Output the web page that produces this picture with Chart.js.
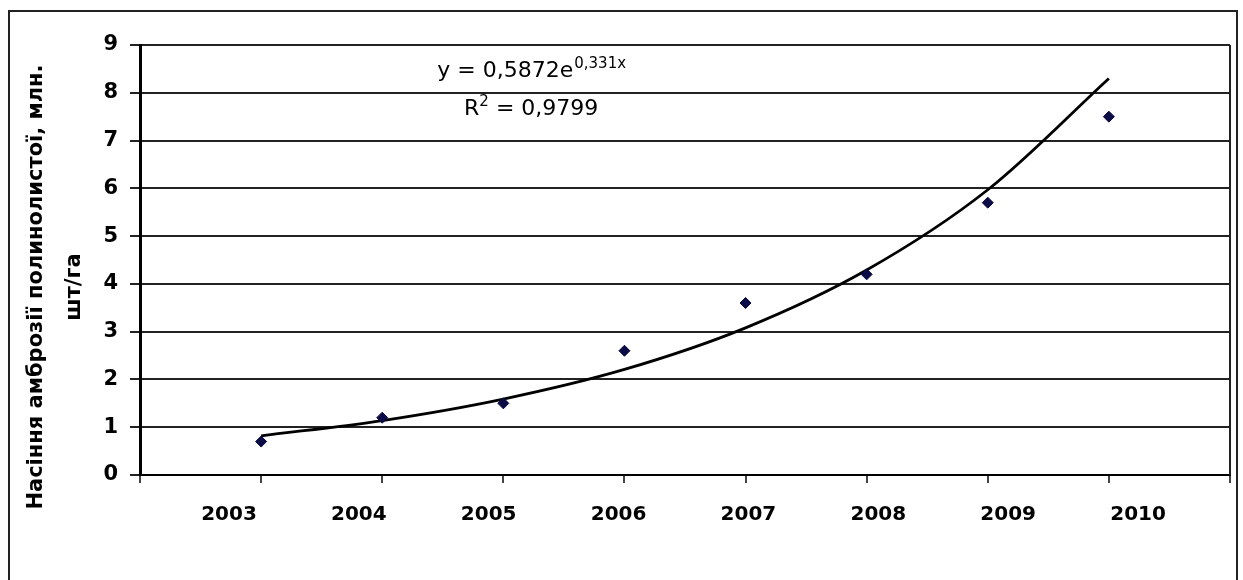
<!DOCTYPE html>
<html>
<head>
<meta charset="utf-8">
<script src="https://cdn.jsdelivr.net/npm/chart.js@4.4.1/dist/chart.umd.min.js"></script>
<style>
    html, body { margin: 0; padding: 0; background: #fff; }
    #wrap { position: relative; width: 1243px; height: 580px; }
</style>
</head>
<body>
<div id="wrap"><canvas id="seedChart" width="1243" height="580"></canvas></div>
<script>
// Дані з графіка
const years = ['2003', '2004', '2005', '2006', '2007', '2008', '2009', '2010'];
const seedValues = [0.7, 1.2, 1.5, 2.6, 3.6, 4.2, 5.7, 7.5];
// лінія тренду, зчитана з малюнка в точках 2003..2010
const trendValues = [0.82, 1.14, 1.59, 2.21, 3.08, 4.29, 5.97, 8.30];
const yTicks = [0, 1, 2, 3, 4, 5, 6, 7, 8, 9];
const xTicks = [0, 1, 2, 3, 4, 5, 6, 7, 8, 9];
const yTitle = ['Насіння амброзії полинолистої, млн.', 'шт/га'];
const equationMain = 'y = 0,5872e';
const equationExp = '0,331x';
const r2Base = 'R';
const r2Exp = '2';
const r2Rest = ' = 0,9799';

const FONT = 'DejaVu Sans';

/**
 * Рамка, заголовок осі Y та рівняння тренду
 */
const decorPlugin = {
    id: 'decor',
    beforeDraw(chart) {
        const ctx = chart.ctx;
        ctx.save();
        ctx.fillStyle = '#fff';
        ctx.fillRect(0, 0, chart.width, chart.height);
        ctx.strokeStyle = '#222';
        ctx.lineWidth = 2;
        ctx.strokeRect(9, 11, 1228, 620);
        ctx.restore();
    },
    afterDraw(chart) {
        const ctx = chart.ctx;
        const area = chart.chartArea;
        const xs = chart.scales.x;
        const ys = chart.scales.y;

        ctx.save();
        // права межа області побудови
        ctx.strokeStyle = '#222';
        ctx.lineWidth = 2;
        ctx.beginPath();
        ctx.moveTo(area.right, area.top);
        ctx.lineTo(area.right, area.bottom);
        ctx.stroke();

        // заголовок осі Y
        ctx.fillStyle = '#000';
        ctx.font = 'bold 21px "' + FONT + '"';
        ctx.textAlign = 'center';
        ctx.textBaseline = 'middle';
        [37, 75].forEach((x, i) => {
            ctx.save();
            ctx.translate(x, 287);
            ctx.rotate(-Math.PI / 2);
            ctx.fillText(yTitle[i], 0, 0);
            ctx.restore();
        });

        // рівняння тренду
        ctx.textAlign = 'left';
        ctx.textBaseline = 'alphabetic';
        const cx = xs.getPixelForValue(3.23);
        const bigFont = '22px "' + FONT + '"';
        const supFont = '15px "' + FONT + '"';

        ctx.font = bigFont;
        const wMain = ctx.measureText(equationMain).width;
        ctx.font = supFont;
        const wExp = ctx.measureText(equationExp).width;
        let x0 = cx - (wMain + wExp) / 2;
        const y1 = ys.getPixelForValue(8.33);
        ctx.font = bigFont;
        ctx.fillText(equationMain, x0, y1);
        ctx.font = supFont;
        ctx.fillText(equationExp, x0 + wMain + 1, y1 - 9);

        ctx.font = bigFont;
        const wR = ctx.measureText(r2Base).width;
        const wRest = ctx.measureText(r2Rest).width;
        ctx.font = supFont;
        const w2 = ctx.measureText(r2Exp).width;
        x0 = cx - (wR + w2 + wRest) / 2;
        const y2 = ys.getPixelForValue(7.53);
        ctx.font = bigFont;
        ctx.fillText(r2Base, x0, y2);
        ctx.font = supFont;
        ctx.fillText(r2Exp, x0 + wR, y2 - 9);
        ctx.font = bigFont;
        ctx.fillText(r2Rest, x0 + wR + w2, y2);
        ctx.restore();
    }
};

function initSeedChart() {
    const canvas = document.getElementById('seedChart');
    if (!canvas) return;

    const ctx = canvas.getContext('2d');

    new Chart(ctx, {
        type: 'line',
        data: {
            datasets: [
                {
                    label: 'Насіння',
                    data: seedValues.map((v, i) => ({ x: i + 1, y: v })),
                    showLine: false,
                    pointStyle: 'rectRot',
                    pointRadius: 5.5,
                    backgroundColor: '#0b0b45',
                    borderColor: '#0b0b45',
                    borderWidth: 1
                },
                {
                    label: 'Тренд',
                    data: trendValues.map((v, i) => ({ x: i + 1, y: v })),
                    borderColor: '#000',
                    borderWidth: 2.8,
                    pointRadius: 0,
                    cubicInterpolationMode: 'monotone',
                    fill: false
                }
            ]
        },
        options: {
            responsive: false,
            animation: false,
            layout: {
                padding: { top: 45, right: 13, bottom: 0, left: 0 }
            },
            plugins: {
                legend: { display: false },
                tooltip: { enabled: false }
            },
            scales: {
                x: {
                    type: 'linear',
                    position: 'bottom',
                    weight: 0,
                    min: 0,
                    max: 9,
                    afterBuildTicks: s => { s.ticks = xTicks.map(v => ({ value: v })); },
                    ticks: { display: false },
                    grid: {
                        drawOnChartArea: false,
                        drawTicks: true,
                        tickLength: 8,
                        color: '#444',
                        lineWidth: 2
                    },
                    border: { color: '#000', width: 2 },
                    afterFit: s => { s.height = 10; }
                },
                x2: {
                    type: 'linear',
                    position: 'bottom',
                    weight: 1,
                    min: 0.315,
                    max: 8.708,
                    afterBuildTicks: s => { s.ticks = years.map((_, i) => ({ value: i + 1 })); },
                    ticks: {
                        callback: (value, index) => years[index],
                        autoSkip: false,
                        maxRotation: 0,
                        padding: 18,
                        color: '#000',
                        font: { family: FONT, weight: 'bold', size: 20 }
                    },
                    grid: { display: false, drawTicks: false },
                    border: { display: false },
                    afterFit: s => { s.height = 95; }
                },
                y: {
                    min: 0,
                    max: 9,
                    afterBuildTicks: s => { s.ticks = yTicks.map(v => ({ value: v })); },
                    ticks: {
                        padding: 12,
                        color: '#000',
                        font: { family: FONT, weight: 'bold', size: 21 }
                    },
                    grid: {
                        color: '#222',
                        lineWidth: 2,
                        tickLength: 10
                    },
                    border: { color: '#000', width: 3 },
                    afterFit: s => { s.width = 140; }
                }
            }
        },
        plugins: [decorPlugin]
    });
}

document.addEventListener('DOMContentLoaded', initSeedChart);
</script>
</body>
</html>
